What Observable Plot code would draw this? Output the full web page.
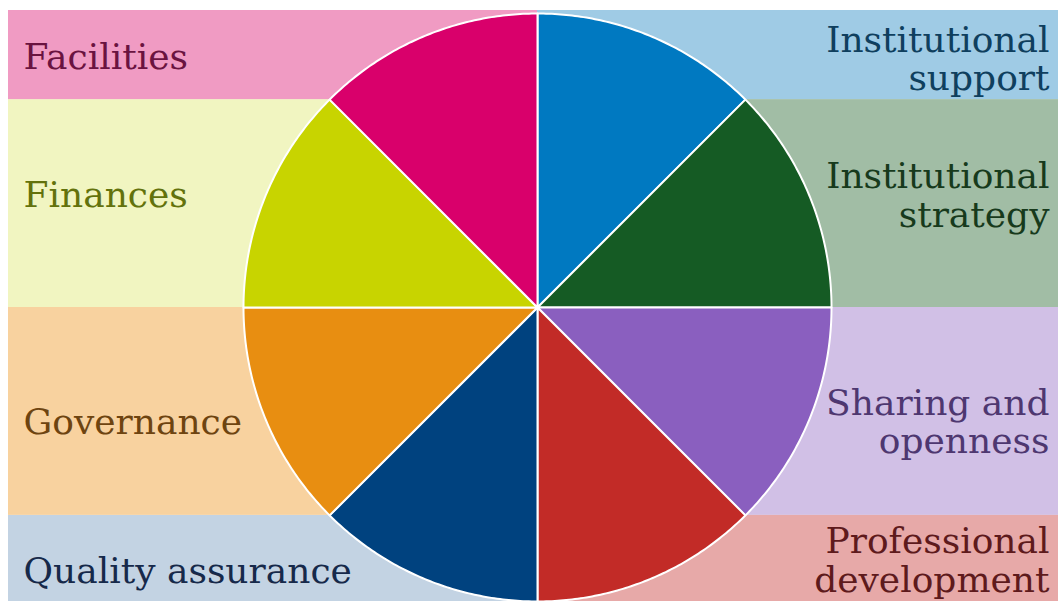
<!DOCTYPE html>
<html>
<head>
<meta charset="utf-8">
<script src="https://cdn.jsdelivr.net/npm/d3@7"></script>
<script src="https://cdn.jsdelivr.net/npm/@observablehq/plot@0.6"></script>
<style>
  html, body { margin: 0; padding: 0; background: #ffffff; }
  #chart svg { display: block; }
</style>
</head>
<body>
<div id="chart"></div>
<script>
// ---- data (clockwise from 12 o'clock) ----
const categories = [
  "Institutional support", "Institutional strategy", "Sharing and openness",
  "Professional development", "Quality assurance", "Governance",
  "Finances", "Facilities"
];
const values = [1, 1, 1, 1, 1, 1, 1, 1];
const labelText = [
  "Institutional\nsupport", "Institutional\nstrategy", "Sharing and\nopenness",
  "Professional\ndevelopment", "Quality assurance", "Governance",
  "Finances", "Facilities"
];
const sliceColors = ["#0079c1", "#155b24", "#8a5fbf", "#c22b27", "#00427f", "#e88e11", "#c8d400", "#d9006b"];
const bandColors  = ["#9fcbe5", "#a1bda5", "#d1c0e6", "#e7a9a8", "#c3d3e3", "#f8d29f", "#f1f5c1", "#f09bc3"];
const textColors  = ["#0f3f5e", "#173a1c", "#4e3770", "#5e1a1c", "#16294a", "#6e4410", "#63720c", "#6a1340"];

// ---- layout (pixels) ----
const W = 1058, H = 601;
const CX = 537, CY = 307, R = 294;
const bandLeftPx = 8, bandRightPx = W, bandTopPx = 10;
const leftTextPx = 23, rightTextPx = 1049;
const labelCenterPx = [58, 194.5, 421, 559.5, 570.5, 421.5, 194.5, 56.5];
const FONT = 36;

const toX = px => (px - CX) / R;
const toY = py => (CY - py) / R;

const pie = d3.pie().sort(null)(values);

// slice outlines
const slicePts = [];
pie.forEach((p, i) => {
  const n = 80;
  slicePts.push({key: i, x: 0, y: 0, color: sliceColors[i]});
  for (let k = 0; k <= n; k++) {
    const a = p.startAngle + (p.endAngle - p.startAngle) * k / n;
    slicePts.push({key: i, x: Math.sin(a), y: Math.cos(a), color: sliceColors[i]});
  }
  slicePts.push({key: i, x: 0, y: 0, color: sliceColors[i]});
});

// background bands
const bands = pie.map((p, i) => {
  const mid = (p.startAngle + p.endAngle) / 2;
  const right = Math.sin(mid) > 0;
  let ya = Math.cos(p.startAngle), yb = Math.cos(p.endAngle);
  let top = Math.max(ya, yb), bot = Math.min(ya, yb);
  if (top > 0.999) top = toY(bandTopPx);
  return {
    x1: right ? 0 : toX(bandLeftPx),
    x2: right ? toX(bandRightPx) : 0,
    y1: bot, y2: top, color: bandColors[i]
  };
});

const labels = pie.map((p, i) => {
  const mid = (p.startAngle + p.endAngle) / 2;
  const right = Math.sin(mid) > 0;
  return {
    text: labelText[i],
    x: right ? toX(rightTextPx) : toX(leftTextPx),
    y: toY(labelCenterPx[i]),
    anchor: right ? "end" : "start",
    color: textColors[i]
  };
});

const chart = Plot.plot({
  width: W, height: H,
  margin: 0,
  x: {domain: [toX(0), toX(W)], axis: null},
  y: {domain: [toY(H), toY(0)], axis: null},
  color: {type: "identity"},
  marks: [
    Plot.rect(bands, {x1: "x1", x2: "x2", y1: "y1", y2: "y2", fill: "color"}),
    Plot.line(slicePts, {x: "x", y: "y", z: "key", fill: "color", stroke: "#ffffff", strokeWidth: 2, strokeLinejoin: "round"}),
    Plot.text(labels.filter(d => d.anchor === "start"), {
      x: "x", y: "y", text: "text", fill: "color", textAnchor: "start", lineAnchor: "middle",
      fontSize: FONT, fontFamily: "DejaVu Serif", lineHeight: 1.08
    }),
    Plot.text(labels.filter(d => d.anchor === "end"), {
      x: "x", y: "y", text: "text", fill: "color", textAnchor: "end", lineAnchor: "middle",
      fontSize: FONT, fontFamily: "DejaVu Serif", lineHeight: 1.08
    })
  ]
});
document.getElementById("chart").appendChild(chart);
</script>
</body>
</html>
